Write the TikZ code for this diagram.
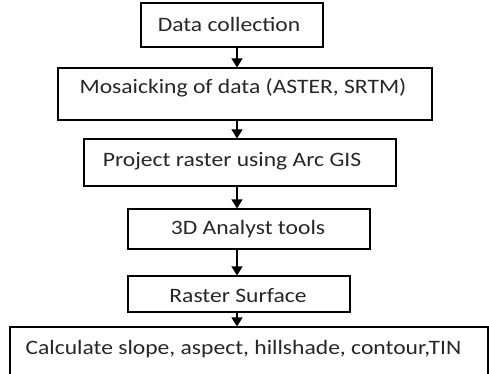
\documentclass[tikz,border=0pt]{standalone}
\usepackage{fontspec}
\setmainfont{Carlito}[FakeStretch=1.15]
\usetikzlibrary{positioning, arrows.meta, calc}

\begin{document}
\begin{tikzpicture}[x=1pt, y=-1pt,
      every node/.style={font=\fontsize{20.5}{24}\selectfont, text=black!85},
      stepbox/.style={draw=black, line width=1.1pt, inner sep=0pt},
      flow/.style={-{Triangle[length=9pt, width=11pt]}, line width=1.1pt}]

    \useasboundingbox (0, 0) rectangle (489, 374);
    \clip (0, 0) rectangle (489, 374);
    \coordinate (ax) at (237, 0);

    % boxes
    \node[stepbox, minimum width=182pt, minimum height=44pt] at (232, 25) (b1) {};
    \node at (229, 24) {Data collection};

    \node[stepbox, minimum width=374pt, minimum height=52pt] at (245, 94) (b2) {};
    \node at (243, 88) {Mosaicking of data (ASTER, SRTM)};

    \node[stepbox, minimum width=312pt, minimum height=47pt] at (240, 162.5) (b3) {};
    \node at (232, 161) {Project raster using Arc GIS};

    \node[stepbox, minimum width=242pt, minimum height=40pt] at (249, 229) (b4) {};
    \node at (248, 229) {3D Analyst tools};

    \node[stepbox, minimum width=222pt, minimum height=36pt] at (239, 294) (b5) {};
    \node at (238, 296) {Raster Surface};

    \node[stepbox, minimum width=478pt, minimum height=70pt] at (249, 362) (b6) {};
    \node[anchor=west] at (22, 349) {Calculate slope, aspect, hillshade, contour,TIN};

    % arrows
    \draw[flow] (b1.south -| ax) -- (b2.north -| ax);
    \draw[flow] (b2.south -| ax) -- (b3.north -| ax);
    \draw[flow] (b3.south -| ax) -- (b4.north -| ax);
    \draw[flow] (b4.south -| ax) -- (b5.north -| ax);
    \draw[flow] (b5.south -| ax) -- (b6.north -| ax);
  \end{tikzpicture}
\end{document}
